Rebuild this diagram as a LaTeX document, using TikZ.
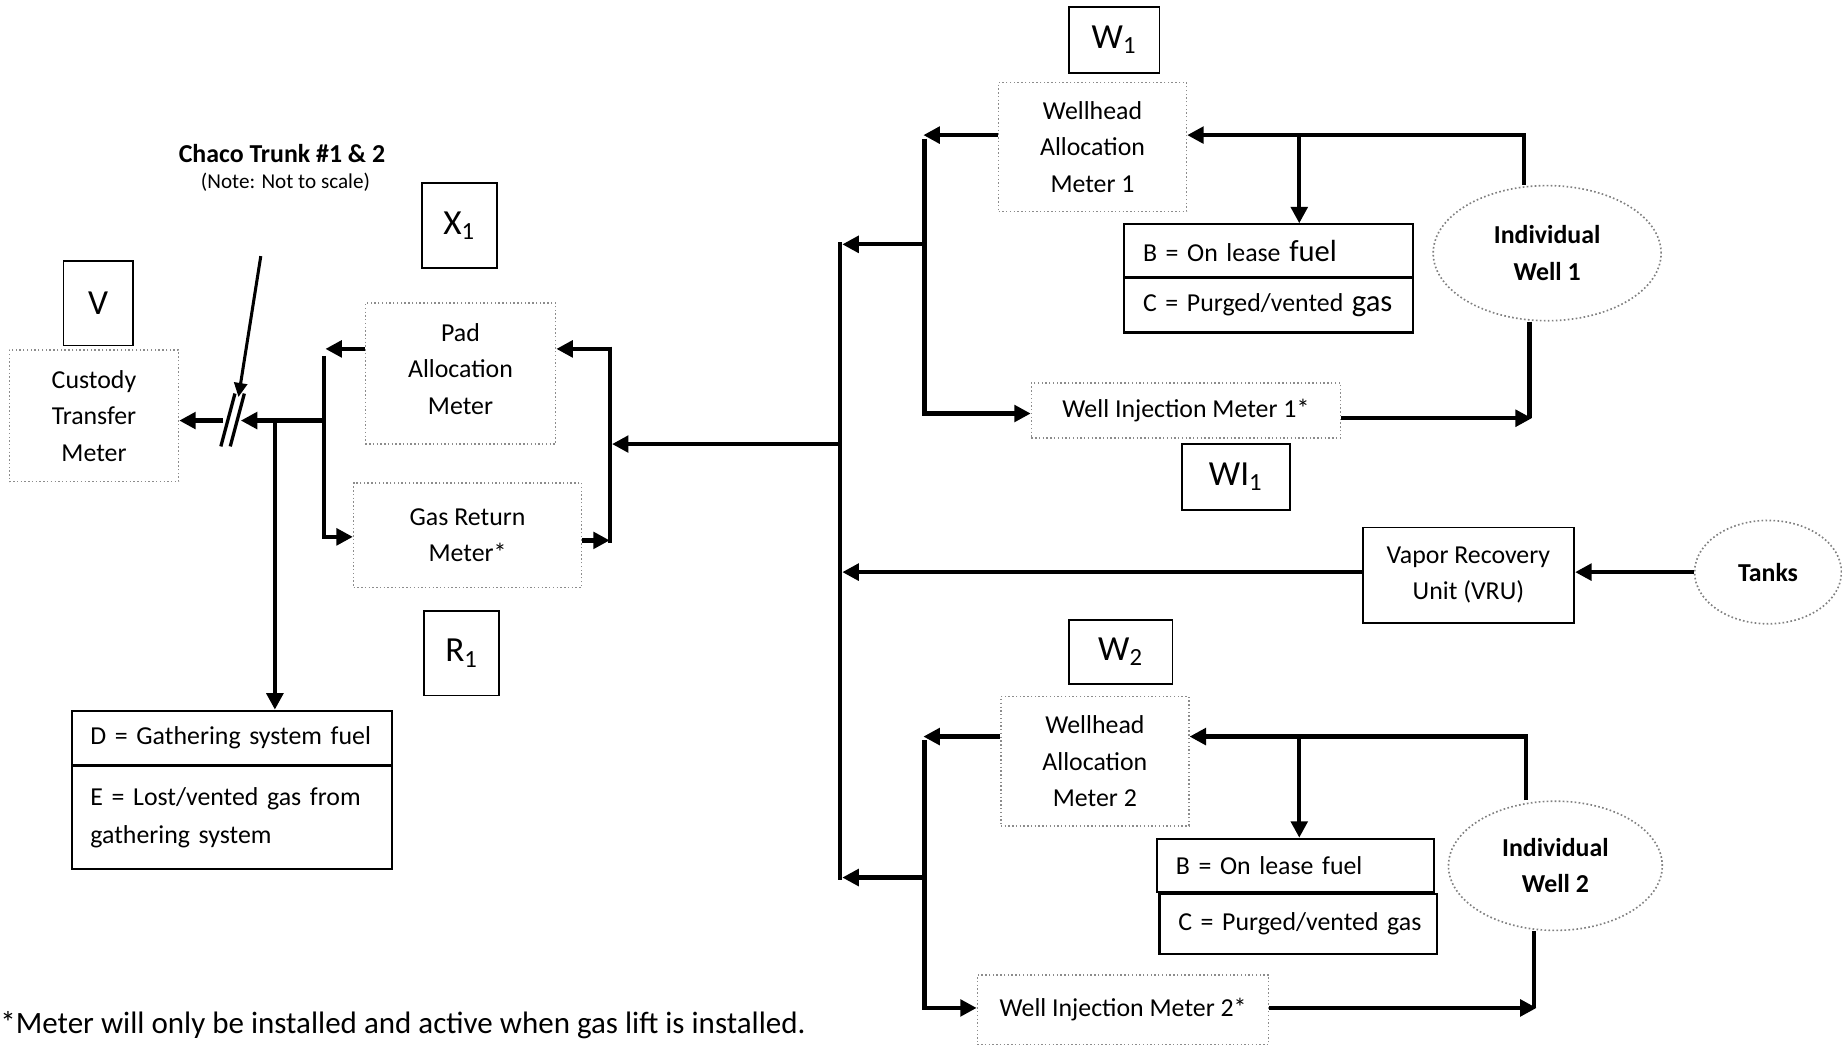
\documentclass[tikz,border=0pt]{standalone}
\usepackage{fontspec}
\setmainfont{Carlito}
\usetikzlibrary{arrows.meta,shapes.geometric,calc}
\tikzset{
 flow/.style={line width=1.8pt, -{Triangle[length=7pt,width=7pt]}},
 flowline/.style={line width=1.8pt},
 thinflow/.style={line width=1.3pt, -{Triangle[length=6pt,width=5.5pt]}},
 lab/.style={draw, line width=0.7pt, inner sep=0pt, font=\fontsize{15}{18}\selectfont},
 meter/.style={draw=black!45, densely dotted, line width=0.6pt, inner sep=0pt, align=center, font=\fontsize{11}{15.5}\selectfont},
 legend/.style={draw, line width=0.9pt, inner xsep=8pt, inner ysep=0pt, align=left, font=\fontsize{11}{16}\selectfont},
 well/.style={ellipse, draw=black!50, densely dotted, line width=0.7pt, inner sep=0pt, align=center, font=\bfseries\fontsize{11}{15.5}\selectfont},
 solidbox/.style={draw, line width=0.8pt, inner sep=0pt, align=center, font=\fontsize{11}{15.5}\selectfont},
}
\begin{document}
\begin{tikzpicture}[x=0.5pt,y=-0.5pt]
\useasboundingbox (0,0) rectangle (1568,889);
% ---- left part
\node[lab, minimum width=29.5pt, minimum height=36pt] (V) at (83.5,258) {V};
\node[meter, minimum width=72pt, minimum height=56pt] (Cust) at (80,354) {Custody\\Transfer\\Meter};
\node[font=\bfseries\fontsize{11}{13}\selectfont] (title) at (240,131) {Chaco Trunk \#1 \& 2};
\node[font=\fontsize{9}{11}\selectfont] (note) at (243,155) {(Note: Not to scale)};
\node[lab, minimum width=32pt, minimum height=36pt] (X1) at (391,192) {X\textsubscript{1}};
\node[meter, minimum width=81pt, minimum height=60pt, text depth=4pt] (Pad) at (392,318) {Pad\\Allocation\\Meter};
\node[meter, minimum width=97pt, minimum height=44.5pt] (GasRet) at (398,455.5) {Gas Return\\Meter*};
\node[lab, minimum width=32pt, minimum height=36pt] (R1) at (393,556) {R\textsubscript{1}};
\node[legend, text width=120.5pt, minimum height=23pt] (D) at (197.5,628) {\mbox{D = Gathering system fuel}};
\node[legend, text width=120.5pt, minimum height=44pt] (E) at (197.5,696) {E = Lost/vented gas from\\gathering system};
\node[anchor=west, inner sep=0pt, font=\fontsize{13.2}{15}\selectfont] (foot) at (0,873) {*Meter will only be installed and active when gas lift is installed.};
% ---- right upper
\node[lab, minimum width=38.5pt, minimum height=28pt] (W1) at (948.5,34) {W\textsubscript{1}};
\node[meter, minimum width=80pt, minimum height=55pt] (WAM1) at (930,125) {Wellhead\\Allocation\\Meter 1};
\node[legend, text width=107pt, minimum height=22.5pt] (B1) at (1080,213.5) {\mbox{B = On lease {\fontsize{13}{16}\selectfont fuel}}};
\node[legend, text width=107pt, minimum height=23pt] (C1) at (1080,260) {\mbox{C = Purged/vented {\fontsize{13}{16}\selectfont gas}}};
\node[well, minimum width=97pt, minimum height=57.5pt] (Well1) at (1317,215.5) {Individual\\Well 1};
\node[meter, minimum width=131.5pt, minimum height=23.5pt] (WIM1) at (1009.5,349.5) {Well Injection Meter 1*};
\node[lab, minimum width=46pt, minimum height=28pt] (WI1) at (1052,406) {WI\textsubscript{1}};
% ---- VRU
\node[solidbox, minimum width=90pt, minimum height=40.5pt] (VRU) at (1250,489.5) {Vapor Recovery\\Unit (VRU)};
\node[well, minimum width=62.5pt, minimum height=44pt] (Tanks) at (1505,487) {Tanks};
% ---- right lower
\node[lab, minimum width=44pt, minimum height=27pt] (W2) at (954,555) {W\textsubscript{2}};
\node[meter, minimum width=80pt, minimum height=55pt] (WAM2) at (932,648) {Wellhead\\Allocation\\Meter 2};
\node[legend, text width=102pt, minimum height=22.5pt] (B2) at (1103,736.5) {\mbox{B = On lease fuel}};
\node[legend, text width=102pt, minimum height=25.5pt] (C2) at (1105,786.5) {\mbox{C = Purged/vented gas}};
\node[well, minimum width=91pt, minimum height=55pt] (Well2) at (1324,737) {Individual\\Well 2};
\node[meter, minimum width=124pt, minimum height=29.5pt] (WIM2) at (956,859.5) {Well Injection Meter 2*};
% ---- coordinates
\coordinate (BRin) at (205,358);
\coordinate (BRout) at (190,358);
\coordinate (J1) at (276,358);
\coordinate (J2) at (234,358);
\coordinate (T1) at (222,218);
\coordinate (T2) at (203,338);
% ---- left connectors
\draw[flow] (Pad.west |- 0,297) -- (277,297);
\draw[flow] (276,303) -- (276,457) -- (GasRet.west |- 0,457);
\draw[flow] (J1) -- (BRin);
\draw[flow] (BRout) -- (Cust.east |- BRout);
\draw[line width=1.4pt] (188,380) -- (200,335);
\draw[line width=1.4pt] (196,380) -- (208,335);
\draw[thinflow] (T1) -- (T2);
\draw[flow] (J2) -- (D.north -| J2);
\draw[flow] (519,297) -- (Pad.east |- 0,297);
\draw[flowline] (519,295) -- (519,462);
\draw[flow] (GasRet.east |- 0,460) -- (519,460);
\draw[flow] (715,378) -- (521,378);
% ---- trunk
\draw[flowline] (715,206) -- (715,749);
\draw[flow] (787,208) -- (717,208);
\draw[flow] (VRU.west |- 0,487) -- (717,487);
\draw[flow] (787,747) -- (717,747);
% ---- upper branch
\draw[flow] (WAM1.west |- 0,115) -- (786,115);
\draw[flow] (787,118) -- (787,352) -- (WIM1.west |- 0,352);
\draw[flow] (Well1.north -| 1297,0) -- (1297,115) -- (WAM1.east |- 0,115);
\draw[flow] (1106,115) -- (B1.north -| 1106,0);
\draw[flowline] (Well1.south -| 1302,0) -- (1302,356);
\draw[flow] (WIM1.east |- 0,356) -- (1304,356);
% ---- VRU
\draw[flow] (Tanks.west |- 0,487) -- (VRU.east |- 0,487);
% ---- lower branch
\draw[flow] (WAM2.west |- 0,627) -- (786,627);
\draw[flow] (787,630) -- (787,858) -- (WIM2.west |- 0,858);
\draw[flow] (Well2.north -| 1299,0) -- (1299,627) -- (WAM2.east |- 0,627);
\draw[flow] (1106,627) -- (B2.north -| 1106,0);
\draw[flowline] (Well2.south -| 1306,0) -- (1306,858);
\draw[flow] (WIM2.east |- 0,858) -- (1308,858);
\end{tikzpicture}
\end{document}
